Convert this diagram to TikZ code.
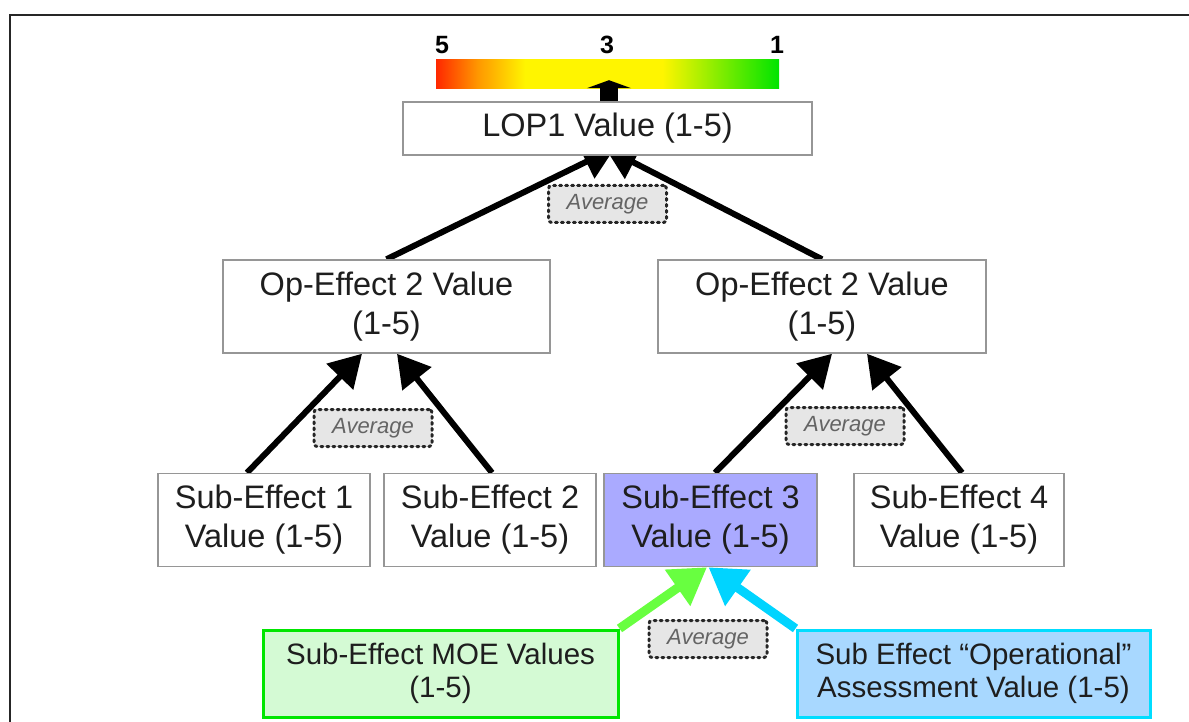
\documentclass[tikz,border=0pt]{standalone}
\usepackage{fontspec}
\setmainfont{Liberation Sans}
\usetikzlibrary{arrows.meta,backgrounds}
\definecolor{txt}{RGB}{30,30,30}
\definecolor{boxline}{RGB}{150,150,150}
\definecolor{subblue}{RGB}{170,170,255}
\definecolor{moefill}{RGB}{212,250,212}
\definecolor{moeline}{RGB}{0,230,0}
\definecolor{moearrow}{RGB}{104,255,64}
\definecolor{opsfill}{RGB}{168,216,255}
\definecolor{opsline}{RGB}{0,221,255}
\definecolor{opsarrow}{RGB}{0,212,255}
\definecolor{avgfill}{RGB}{230,230,230}
\definecolor{avgtxt}{RGB}{100,100,100}
\definecolor{barred}{RGB}{255,40,0}
\definecolor{barorange}{RGB}{255,150,0}
\definecolor{baryellow}{RGB}{255,245,0}
\definecolor{bargreen}{RGB}{0,228,0}
\pgfdeclarehorizontalshading{ratebar}{100bp}{color(0bp)=(barred); color(25bp)=(barred); color(31bp)=(barorange); color(38bp)=(baryellow); color(58bp)=(baryellow); color(75bp)=(bargreen); color(100bp)=(bargreen)}

\begin{document}
\begin{tikzpicture}[x=1pt,y=-1pt,
  valbox/.style={draw=boxline,line width=1.5pt,fill=white,text=txt,align=center,
    font=\fontsize{32.5}{39}\selectfont,minimum height=93pt},
  avgbox/.style={draw=black!85,line width=3pt,dash pattern=on 2pt off 4pt,line cap=round,
    rounded corners=3pt,fill=avgfill,text=avgtxt,font=\fontsize{22}{26}\selectfont\itshape,
    minimum width=118pt,minimum height=37pt},
  inbox/.style={line width=3pt,text=txt,align=center,font=\fontsize{29.5}{33}\selectfont,
    minimum height=87pt},
  treearrow/.style={line width=6pt,-{Triangle[length=32pt,width=36pt]}},
  feedarrow/.style={line width=9pt,-{Triangle[length=36pt,width=42pt]}}]
\tikzstyle{every node}+=[inner sep=0pt]
\useasboundingbox (0,0) rectangle (1189,722);
\draw [line width=2.5pt,black!85] (10,722) -- (10,15) -- (1189,15);
\node [draw=none,shading=ratebar,minimum width=343pt,minimum height=29pt] (bar) at (607.5,74.5) {};
\node [font=\fontsize{25}{28}\selectfont\bfseries] (five) at (442,45) {5};
\node [font=\fontsize{25}{28}\selectfont\bfseries] (three) at (607,45) {3};
\node [font=\fontsize{25}{28}\selectfont\bfseries] (one) at (777,45) {1};
\node [valbox,minimum width=409pt,minimum height=53pt] (lop) at (607.5,128.5) {LOP1 Value (1-5)};
\node [avgbox] (avgtop) at (607.5,204) {Average};
\node [valbox,minimum width=327pt] (opl) at (386.5,306.5) {Op-Effect 2 Value\\(1-5)};
\node [valbox,minimum width=328pt] (opr) at (822,306.5) {Op-Effect 2 Value\\(1-5)};
\node [avgbox] (avgl) at (373,428) {Average};
\node [avgbox] (avgr) at (845,426) {Average};
\node [valbox,minimum width=212pt] (sub1) at (264,520) {Sub-Effect 1\\Value (1-5)};
\node [valbox,minimum width=212pt] (sub2) at (490,520) {Sub-Effect 2\\Value (1-5)};
\node [valbox,minimum width=213pt,fill=subblue] (sub3) at (710.5,520) {Sub-Effect 3\\Value (1-5)};
\node [valbox,minimum width=210pt] (sub4) at (959,520) {Sub-Effect 4\\Value (1-5)};
\node [avgbox] (avgb) at (708,639) {Average};
\node [inbox,draw=moeline,fill=moefill,minimum width=355pt] (moe) at (440.5,673.5) {Sub-Effect MOE Values\\(1-5)};
\node [inbox,draw=opsline,fill=opsfill,minimum width=353pt] (ops) at (973.5,673.5) {Sub Effect “Operational”\\Assessment Value (1-5)};
\draw [line width=18pt,-{Triangle[length=8pt,width=44pt]}] ([xshift=1.5pt]lop.north) -- ([xshift=1.5pt,yshift=9pt]bar.south);
\begin{scope}[on background layer]
\draw [treearrow] (opl.north) -- ([xshift=7.5pt,yshift=8pt]lop.south);
\draw [treearrow] (opr.north) -- ([xshift=-2.5pt,yshift=8pt]lop.south);
\draw [treearrow] ([xshift=-17pt]sub1.north) -- ([xshift=-24.5pt]opl.south);
\draw [treearrow] ([xshift=2pt]sub2.north) -- ([xshift=10.5pt]opl.south);
\draw [treearrow] ([xshift=4.5pt]sub3.north) -- ([xshift=10pt]opr.south);
\draw [treearrow] ([xshift=3pt]sub4.north) -- ([xshift=45pt]opr.south);
\draw [feedarrow,moearrow] (moe.north east) -- ([xshift=-3.5pt]sub3.south);
\draw [feedarrow,opsarrow] (ops.north west) -- ([xshift=-2pt]sub3.south);
\end{scope}
\end{tikzpicture}
\end{document}
